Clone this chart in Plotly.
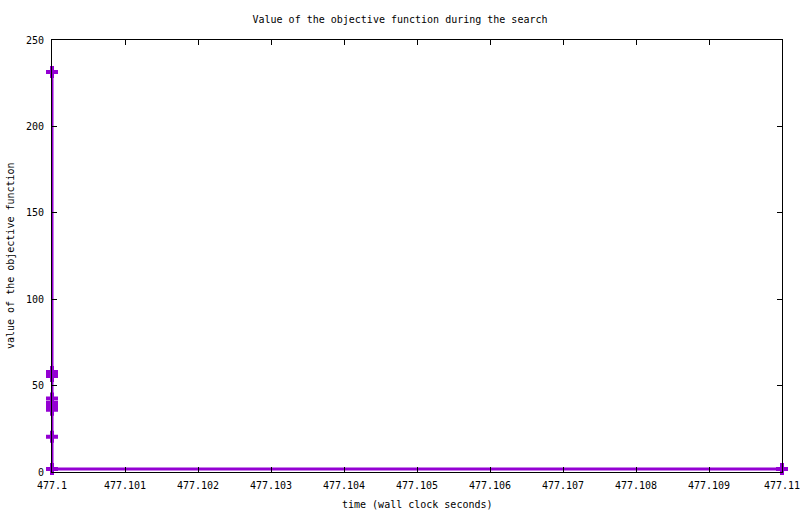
import plotly.graph_objects as go

# objective value over wall clock time
tempo = [477.1, 477.1, 477.1, 477.1, 477.1, 477.1, 477.1, 477.1, 477.1, 477.11]
valor = [231.5, 57.8, 55.5, 42.5, 40.0, 38.0, 36.0, 20.4, 1.8, 1.8]

x_ticks = [477.1, 477.101, 477.102, 477.103, 477.104, 477.105,
           477.106, 477.107, 477.108, 477.109, 477.11]
x_labels = ['477.1', '477.101', '477.102', '477.103', '477.104', '477.105',
            '477.106', '477.107', '477.108', '477.109', '477.11']
y_ticks = [0, 50, 100, 150, 200, 250]

fonte = dict(family='DejaVu Sans Mono', size=10, color='black')

fig = go.Figure()
fig.add_trace(go.Scatter(x=tempo, y=valor, mode='lines+markers',
                         line=dict(color='#9400D3', width=3),
                         marker=dict(symbol='cross', size=10, color='#9400D3'),
                         showlegend=False, cliponaxis=False))

fig.update_xaxes(range=[477.1 - 1e-9, 477.11 + 1e-9], tickvals=x_ticks, ticktext=x_labels,
                 showgrid=False, zeroline=False, showline=True, mirror='ticks',
                 linecolor='black', linewidth=1, ticks='inside', ticklen=5,
                 tickcolor='black', layer='above traces', automargin=False,
                 ticklabelstandoff=4, ticklabeloverflow='allow')
fig.update_yaxes(range=[0, 250], tickvals=y_ticks,
                 showgrid=False, zeroline=False, showline=True, mirror='ticks',
                 linecolor='black', linewidth=1, ticks='inside', ticklen=5,
                 tickcolor='black', layer='above traces', automargin=False,
                 ticklabelstandoff=5)

# titulos dos eixos
fig.add_annotation(text='time (wall clock seconds)', xref='paper', yref='paper',
                   x=0.5, y=-0.076, xanchor='center', yanchor='middle',
                   showarrow=False, font=fonte)
fig.add_annotation(text='value of the objective function', xref='paper', yref='paper',
                   x=-0.0575, y=0.5, xanchor='center', yanchor='middle', textangle=-90,
                   showarrow=False, font=fonte)

fig.update_layout(title=dict(text='Value of the objective function during the search',
                             x=0.5, xanchor='center', y=0.963, yanchor='middle', font=fonte),
                  font=fonte, plot_bgcolor='white', paper_bgcolor='white',
                  autosize=False, width=800, height=514,
                  margin=dict(l=52, r=18, t=40, b=42))

# tira a margem padrao do body da pagina
fig.write_html("out.html", config={'displayModeBar': False},
               post_script="document.body.style.margin='0';")
